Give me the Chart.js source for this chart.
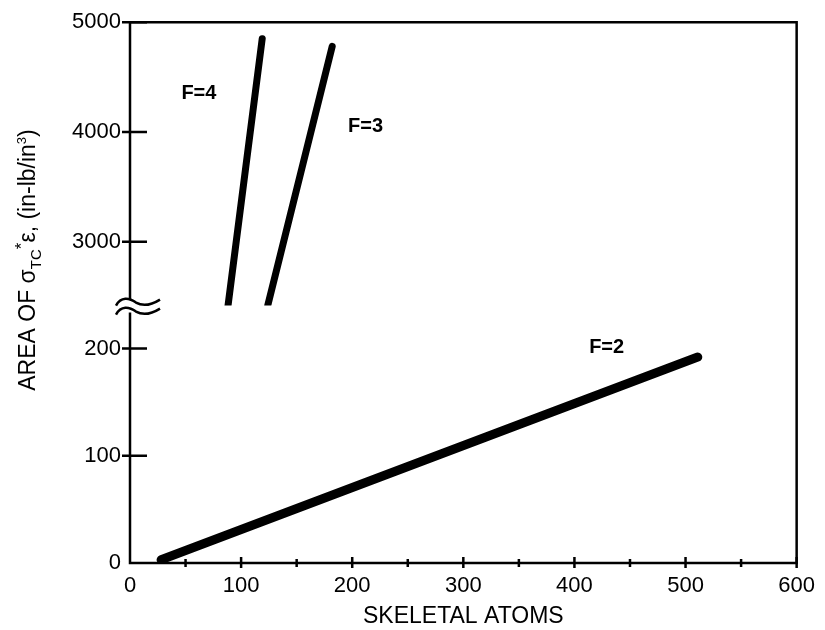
<!DOCTYPE html>
<html>
<head>
<meta charset="utf-8">
<script src="https://cdn.jsdelivr.net/npm/chart.js@4.4.1/dist/chart.umd.min.js"></script>
<style>
  html, body { margin: 0; padding: 0; background: #fff; }
  #wrap { width: 825px; height: 630px; }
</style>
</head>
<body>
<div id="wrap"><canvas id="chart" width="825" height="630"></canvas></div>
<script>
// axis ticks
const xTicks = [0, 100, 200, 300, 400, 500, 600];
const xMinorTicks = [50, 150, 250, 350, 450, 550];
const yTicksLow = [0, 100, 200];
const yTicksHigh = [3000, 4000, 5000];

// series (skeletal atoms vs area)
const seriesLabels = ["F=2", "F=3", "F=4"];
const f2Atoms = [28, 511];
const f2Area = [3, 192];
const f3Atoms = [124, 182];
const f3Area = [2420, 4780];
const f4Atoms = [88, 119];
const f4Area = [2400, 4850];

const FONT = "'Liberation Sans', Arial, Helvetica, sans-serif";
Chart.defaults.color = "#000";
Chart.defaults.font.family = FONT;

function toPoints(xs, ys) {
  return xs.map((x, i) => ({ x: x, y: ys[i] }));
}

// frame, tick marks and the axis break
const framePlugin = {
  id: "frame",
  beforeDatasetsDraw(chart) {
    const { ctx, chartArea: a, scales } = chart;
    const breakY = scales.y.top;
    ctx.save();
    ctx.strokeStyle = "#000";
    ctx.lineWidth = 2.5;
    ctx.beginPath();
    ctx.moveTo(a.left, breakY - 6);
    ctx.lineTo(a.left, a.top);
    ctx.lineTo(a.right, a.top);
    ctx.lineTo(a.right, a.bottom);
    ctx.lineTo(a.left, a.bottom);
    ctx.lineTo(a.left, breakY + 7);
    ctx.stroke();

    ctx.beginPath();
    for (const v of yTicksLow) {
      if (v === 0) continue;
      const py = scales.y.getPixelForValue(v);
      ctx.moveTo(a.left - 8, py);
      ctx.lineTo(a.left + 17, py);
    }
    for (const v of yTicksHigh) {
      const py = scales.y2.getPixelForValue(v);
      ctx.moveTo(a.left - 8, py);
      ctx.lineTo(a.left + 17, py);
    }
    for (const v of xTicks) {
      if (v === 0) continue;
      const px = scales.x.getPixelForValue(v);
      ctx.moveTo(px, a.bottom - 6);
      ctx.lineTo(px, a.bottom + 5);
    }
    for (const v of xMinorTicks) {
      const px = scales.x.getPixelForValue(v);
      ctx.moveTo(px, a.bottom - 4);
      ctx.lineTo(px, a.bottom + 4);
    }
    ctx.stroke();

    // the two wavy break marks
    const wave = (x, y) => {
      ctx.moveTo(x - 14, y + 4);
      ctx.bezierCurveTo(x - 9, y - 5, x - 1, y - 4, x + 6, y + 1);
      ctx.bezierCurveTo(x + 13, y + 5, x + 22, y + 3, x + 30, y - 2);
    };
    ctx.lineWidth = 2.5;
    ctx.beginPath();
    wave(a.left, breakY - 4);
    wave(a.left, breakY + 5);
    ctx.stroke();
    ctx.restore();
  },
};

// series names written next to the lines
const labelPlugin = {
  id: "seriesNames",
  afterDatasetsDraw(chart) {
    const { ctx, scales } = chart;
    const spots = [
      { x: 429, y: 201, axis: "y" },
      { x: 212, y: 4050, axis: "y2" },
      { x: 62, y: 4350, axis: "y2" },
    ];
    ctx.save();
    ctx.font = "bold 20px " + FONT;
    ctx.fillStyle = "#000";
    ctx.textAlign = "center";
    ctx.textBaseline = "middle";
    seriesLabels.forEach((name, i) => {
      const s = spots[i];
      ctx.fillText(name, scales.x.getPixelForValue(s.x), scales[s.axis].getPixelForValue(s.y));
    });
    ctx.restore();
  },
};

// y title with sub/superscripts
const yTitlePlugin = {
  id: "yTitle",
  afterDraw(chart) {
    const { ctx } = chart;
    const parts = [
      { t: "AREA OF ", s: 23, dy: 0 },
      { t: "\u03c3", s: 23, dy: 0 },
      { t: "TC", s: 15, dy: 6 },
      { t: "*", s: 17, dy: -8 },
      { t: "\u03b5, (in-lb/in", s: 23, dy: 0 },
      { t: "3", s: 13, dy: -9 },
      { t: ")", s: 23, dy: 0 },
    ];
    ctx.save();
    ctx.fillStyle = "#000";
    ctx.textBaseline = "alphabetic";
    ctx.textAlign = "left";
    let total = 0;
    for (const p of parts) {
      ctx.font = p.s + "px " + FONT;
      p.w = ctx.measureText(p.t).width;
      total += p.w;
    }
    ctx.translate(26, 260);
    ctx.rotate(-Math.PI / 2);
    let x = -total / 2;
    for (const p of parts) {
      ctx.font = p.s + "px " + FONT;
      ctx.fillText(p.t, x, 8.5 + p.dy);
      x += p.w;
    }
    ctx.restore();
  },
};

const lineStyle = {
  showLine: true,
  borderColor: "#000",
  backgroundColor: "#000",
  borderCapStyle: "round",
  pointRadius: 0,
  fill: false,
};

new Chart(document.getElementById("chart"), {
  type: "scatter",
  data: {
    datasets: [
      { ...lineStyle, label: seriesLabels[0], data: toPoints(f2Atoms, f2Area), yAxisID: "y", borderWidth: 9 },
      { ...lineStyle, label: seriesLabels[1], data: toPoints(f3Atoms, f3Area), yAxisID: "y2", borderWidth: 7 },
      { ...lineStyle, label: seriesLabels[2], data: toPoints(f4Atoms, f4Area), yAxisID: "y2", borderWidth: 7 },
    ],
  },
  options: {
    responsive: false,
    animation: false,
    layout: { padding: { left: 0, top: 21, right: 25, bottom: 0 } },
    plugins: { legend: { display: false }, tooltip: { enabled: false } },
    scales: {
      x: {
        type: "linear",
        min: 0,
        max: 600,
        grid: { display: false, drawTicks: false },
        border: { display: false },
        ticks: { font: { size: 22 }, padding: 10, maxRotation: 0, callback: (v) => String(v) },
        afterBuildTicks: (s) => { s.ticks = xTicks.map((v) => ({ value: v })); },
        afterFit: (s) => { s.height = 67; },
        title: { display: true, text: "SKELETAL ATOMS", font: { size: 23 }, padding: { top: 0, bottom: 0 } },
      },
      y: {
        type: "linear",
        position: "left",
        stack: "area",
        stackWeight: 258,
        min: 0,
        max: 240,
        grid: { display: false, drawTicks: false },
        border: { display: false },
        ticks: { font: { size: 22 }, padding: 9, callback: (v) => String(v) },
        afterBuildTicks: (s) => { s.ticks = yTicksLow.map((v) => ({ value: v })); },
        afterFit: (s) => { s.width = 130; },
      },
      y2: {
        type: "linear",
        position: "left",
        stack: "area",
        stackWeight: 284,
        min: 2418,
        max: 5000,
        grid: { display: false, drawTicks: false },
        border: { display: false },
        ticks: { font: { size: 22 }, padding: 9, callback: (v) => String(v) },
        afterBuildTicks: (s) => { s.ticks = yTicksHigh.map((v) => ({ value: v })); },
        afterFit: (s) => { s.width = 130; },
      },
    },
  },
  plugins: [framePlugin, labelPlugin, yTitlePlugin],
});
</script>
</body>
</html>
